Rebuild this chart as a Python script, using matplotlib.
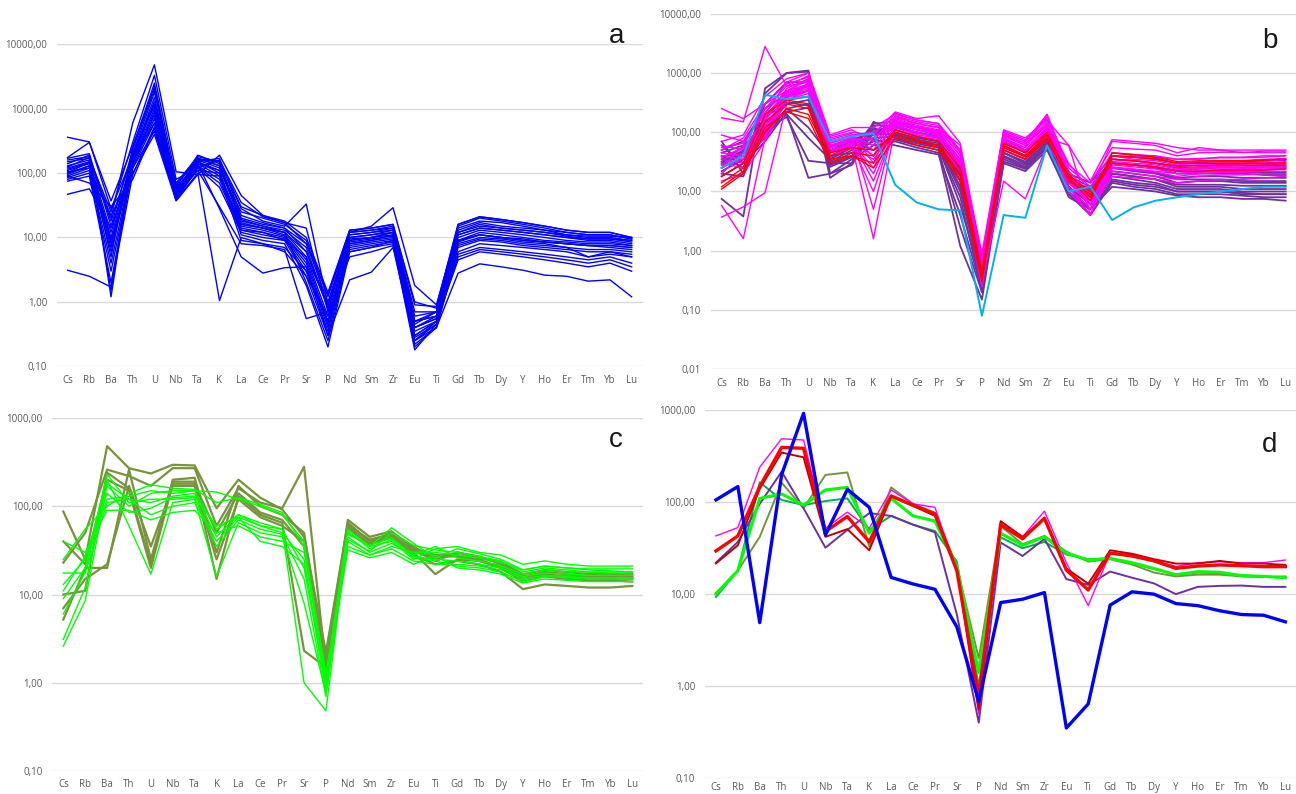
import matplotlib
matplotlib.use("Agg")
import matplotlib.pyplot as plt
from matplotlib.ticker import FixedLocator, FuncFormatter, NullLocator

plt.rcParams['font.family'] = ['Open Sans', 'DejaVu Sans']

elements = ["Cs", "Rb", "Ba", "Th", "U", "Nb", "Ta", "K", "La", "Ce", "Pr", "Sr", "P",
            "Nd", "Sm", "Zr", "Eu", "Ti", "Gd", "Tb", "Dy", "Y", "Ho", "Er", "Tm", "Yb", "Lu"]

# ---- panel a: blue suite ----
series_a = [
    [3.1, 2.5, 1.7, 95, 520, 42, 160, 150, 16, 14, 12, 6, 0.9, 10, 11, 13, 0.45, 0.7, 11, 14, 13, 12, 11, 10, 9.5, 9.5, 9],
    [360, 305, 28, 180, 1200, 55, 150, 170, 22, 17, 14, 8, 1.0, 11, 12, 14, 0.5, 0.6, 12, 15, 14, 13, 12, 11, 10.5, 10.5, 10],
    [47, 57, 14, 140, 800, 50, 170, 130, 19, 15, 13, 7, 0.8, 9.5, 10, 12, 0.4, 0.55, 9, 11, 10, 9, 8.5, 8, 7.5, 7.5, 7],
    [175, 300, 37, 260, 2200, 60, 140, 110, 25, 20, 16, 9, 1.2, 12, 13, 15, 0.7, 0.7, 15, 20, 18, 16, 14, 12, 11, 11, 9.5],
    [160, 180, 20, 600, 4800, 105, 95, 190, 45, 22, 18, 10, 1.4, 13, 14, 16, 1.0, 0.8, 16, 21, 19, 17, 15, 13, 12, 12, 10],
    [150, 170, 25, 300, 3300, 80, 120, 160, 35, 21, 17, 14, 0.7, 12, 15, 29, 1.8, 0.9, 14, 18, 17, 15, 13, 12, 11, 11, 9.5],
    [130, 160, 18, 200, 1800, 70, 180, 150, 28, 18, 15, 33, 0.9, 12, 13, 14, 0.6, 0.7, 13, 17, 15, 14, 13, 11, 10, 10, 9],
    [120, 150, 12, 180, 1500, 60, 190, 140, 20, 16, 14, 6, 0.8, 11, 12, 13, 0.5, 0.6, 12, 16, 14, 13, 12, 10.5, 9.5, 9.5, 8.5],
    [110, 140, 10, 170, 1200, 55, 160, 120, 18, 15, 12, 5, 0.6, 10, 11, 12, 0.4, 0.55, 11, 14, 13, 12, 11, 10, 9, 9, 8],
    [100, 130, 8, 160, 1000, 50, 150, 100, 16, 14, 11, 4.5, 0.5, 9, 10, 11, 0.35, 0.5, 10, 13, 12, 11, 10, 9, 8.5, 8.5, 7.5],
    [90, 120, 6, 150, 900, 45, 140, 90, 15, 13, 10.5, 4, 0.45, 8.5, 9.5, 10.5, 0.3, 0.5, 9, 12, 11, 10, 9, 8.5, 8, 8, 7.5],
    [85, 110, 4, 145, 800, 42, 130, 80, 14, 12, 10, 3.5, 0.4, 8, 9, 10, 0.28, 0.45, 8.5, 11, 10, 9, 8.5, 8, 7.5, 7.5, 7],
    [80, 100, 3, 130, 700, 40, 125, 70, 13, 11, 9.5, 3, 0.35, 7.5, 8.5, 9.5, 0.25, 0.45, 8, 10, 9.5, 8.5, 8, 7, 6.5, 6.5, 6],
    [75, 90, 2, 120, 600, 38, 120, 60, 12, 10, 9, 2.5, 0.3, 7, 8, 9, 0.22, 0.4, 7, 9, 8.5, 7.5, 7, 6.5, 6, 6, 5.5],
    [140, 190, 1.2, 190, 1300, 65, 170, 130, 17, 14, 12, 2, 0.25, 6.5, 7.5, 8.5, 0.2, 0.4, 6, 8, 7.5, 7, 6.5, 6, 5, 5.5, 5],
    [125, 175, 1.5, 210, 1100, 48, 150, 110, 11, 9, 8, 1.8, 0.2, 6, 7, 8, 0.18, 0.45, 5.5, 7, 6.5, 6, 5.5, 5, 4.5, 5, 4],
    [100, 150, 5, 250, 2500, 62, 110, 30, 8, 7.5, 6.5, 0.55, 0.7, 5, 6, 7.5, 0.3, 0.5, 5, 6.5, 6, 5.5, 5, 4.5, 4, 4.5, 3.5],
    [95, 130, 7, 160, 600, 38, 100, 1.05, 10, 8, 7, 3, 0.5, 8, 9, 11, 0.4, 0.6, 7.5, 9.5, 9, 8, 7.5, 7, 5, 6, 5],
    [115, 145, 9, 120, 450, 40, 140, 28, 5, 2.8, 3.4, 3.5, 0.3, 2.2, 2.9, 7, 0.25, 0.4, 2.8, 3.9, 3.5, 3.1, 2.6, 2.5, 2.1, 2.2, 1.2],
    [170, 200, 15, 230, 2000, 65, 165, 155, 30, 22, 17, 8, 1.3, 13, 14, 16, 0.9, 0.85, 16, 21, 19, 17, 15, 13, 12, 12, 10],
    [105, 120, 22, 100, 400, 37, 95, 90, 9, 8, 6, 2.5, 0.6, 6, 7, 9, 0.25, 0.5, 4.5, 6, 5.5, 5, 4.5, 4, 3.5, 4, 3],
    [90, 70, 30, 80, 500, 45, 110, 100, 13, 12, 9, 5, 0.9, 9, 10, 12, 0.5, 0.7, 9, 11, 10, 9.5, 8.5, 8, 7.5, 7, 6.5],
]

# ---- panel b: magenta, purple, red and cyan suites ----
series_b_magenta = [
    [250, 170, 300, 500, 800, 70, 80, 60, 180, 140, 120, 50, 0.6, 90, 60, 130, 30, 10, 70, 65, 60, 45, 55, 50, 45, 48, 48],
    [175, 150, 2800, 600, 900, 80, 100, 90, 220, 170, 190, 65, 0.7, 110, 80, 160, 60, 15, 75, 70, 65, 55, 50, 50, 50, 50, 50],
    [3.7, 5.5, 9.5, 300, 700, 60, 70, 40, 150, 110, 100, 30, 0.4, 80, 45, 120, 20, 5, 40, 35, 33, 28, 30, 30, 30, 32, 35],
    [5.8, 1.6, 80, 400, 600, 50, 60, 1.6, 120, 90, 80, 25, 0.3, 60, 40, 90, 12, 4, 30, 28, 26, 22, 24, 24, 24, 25, 25],
    [90, 70, 200, 700, 1000, 90, 120, 120, 200, 160, 140, 45, 0.8, 100, 70, 200, 25, 12, 45, 40, 38, 35, 35, 38, 38, 40, 40],
    [60, 50, 150, 550, 800, 70, 90, 100, 180, 140, 120, 40, 0.5, 90, 65, 150, 18, 8, 35, 33, 30, 26, 28, 30, 30, 30, 32],
    [45, 40, 120, 450, 650, 55, 75, 80, 160, 120, 100, 35, 0.45, 75, 55, 120, 15, 7, 30, 28, 26, 22, 25, 26, 26, 27, 28],
    [35, 30, 100, 400, 550, 50, 65, 20, 140, 110, 90, 30, 0.35, 65, 45, 100, 14, 6, 28, 26, 24, 20, 22, 23, 23, 24, 25],
    [30, 25, 90, 350, 500, 45, 60, 10, 130, 100, 80, 25, 0.3, 55, 40, 90, 12, 5, 25, 23, 21, 18, 20, 21, 21, 22, 22],
    [25, 60, 250, 600, 700, 65, 85, 5, 150, 120, 100, 35, 0.25, 70, 50, 110, 15, 6, 32, 30, 28, 24, 26, 27, 27, 28, 30],
    [50, 80, 300, 650, 850, 75, 95, 30, 190, 150, 130, 45, 0.5, 95, 70, 170, 22, 9, 40, 38, 35, 30, 32, 33, 33, 35, 36],
    [40, 35, 180, 500, 650, 60, 80, 50, 170, 130, 110, 40, 0.4, 85, 60, 140, 20, 7, 45, 42, 40, 35, 36, 37, 37, 38, 40],
    [20, 45, 130, 420, 600, 55, 70, 15, 120, 95, 85, 20, 0.3, 15, 7.5, 60, 20, 6, 18, 17, 16, 14, 15, 16, 16, 17, 18],
    [15, 20, 70, 350, 450, 40, 55, 35, 110, 85, 75, 20, 0.25, 50, 35, 80, 60, 4, 22, 20, 18, 16, 18, 19, 19, 20, 20],
    [70, 90, 400, 800, 1000, 85, 110, 70, 210, 160, 140, 50, 0.9, 105, 75, 180, 28, 14, 55, 52, 50, 40, 45, 46, 46, 45, 45],
    [55, 65, 220, 500, 750, 65, 85, 60, 180, 140, 120, 60, 0.6, 90, 65, 130, 16, 10, 35, 33, 30, 27, 28, 29, 29, 30, 31],
    [28, 35, 110, 380, 520, 48, 65, 25, 140, 110, 95, 28, 0.35, 70, 50, 100, 10, 4, 26, 24, 22, 20, 21, 22, 22, 23, 24],
    [38, 55, 160, 480, 620, 58, 78, 40, 160, 125, 105, 32, 0.4, 80, 55, 200, 18, 8, 30, 28, 26, 23, 24, 25, 25, 26, 27],
]
series_b_purple = [
    [7.5, 3.8, 550, 1000, 1100, 30, 30, 150, 100, 80, 70, 15, 0.3, 50, 35, 80, 15, 6, 20, 18, 16, 12, 12, 12, 11, 11, 11],
    [70, 20, 450, 1000, 1050, 20, 28, 100, 90, 70, 60, 12, 0.25, 45, 30, 70, 12, 5, 18, 16, 14, 11, 11, 11, 10, 10, 10],
    [60, 30, 300, 700, 700, 17, 30, 120, 80, 65, 55, 8, 0.2, 40, 28, 60, 10, 4, 16, 14, 13, 10, 10, 10, 9.5, 9, 9],
    [20, 18, 150, 200, 17, 20, 35, 60, 70, 55, 45, 1.2, 0.15, 30, 22, 50, 9, 4, 14, 12, 11, 9, 9, 9, 8.5, 8, 8],
    [25, 40, 120, 180, 33, 30, 45, 70, 75, 60, 50, 2.5, 0.2, 35, 25, 55, 10, 5, 15, 13, 12, 10, 10, 10, 9, 9, 9],
    [30, 50, 90, 200, 80, 35, 55, 80, 85, 65, 55, 6, 0.3, 38, 26, 60, 12, 6, 20, 18, 16, 13, 13, 13, 12.5, 12.5, 12.5],
    [35, 55, 100, 250, 120, 40, 60, 90, 95, 70, 60, 10, 0.35, 45, 30, 65, 14, 8, 25, 22, 20, 16, 16, 16, 15, 15, 15],
    [45, 60, 130, 350, 400, 45, 65, 110, 110, 85, 70, 15, 0.4, 55, 40, 80, 15, 10, 30, 28, 25, 20, 20, 20, 20, 19, 19],
    [18, 30, 70, 220, 260, 28, 40, 130, 130, 100, 85, 20, 0.45, 70, 45, 100, 18, 12, 35, 33, 30, 25, 25, 26, 25, 26, 26],
    [22, 35, 80, 250, 300, 32, 50, 140, 150, 120, 100, 25, 0.5, 80, 50, 110, 20, 14, 40, 38, 36, 30, 31, 32, 32, 33, 34],
    [28, 45, 110, 300, 350, 38, 55, 95, 120, 100, 80, 18, 0.35, 60, 40, 90, 14, 9, 25, 23, 21, 17, 18, 18, 17, 17, 17],
    [40, 25, 200, 400, 500, 50, 70, 50, 90, 75, 65, 12, 0.28, 45, 32, 70, 11, 7, 22, 20, 18, 14, 15, 15, 14, 14, 14],
    [32, 48, 180, 320, 280, 26, 38, 75, 60, 50, 42, 4, 0.22, 32, 24, 55, 8, 5, 12, 11, 10, 8.5, 8, 8, 7.5, 7.5, 7],
    [50, 70, 250, 450, 600, 55, 75, 100, 140, 110, 90, 22, 0.45, 75, 48, 95, 16, 11, 30, 28, 26, 22, 22, 22, 21, 21, 21],
]
series_b_red = [
    [11, 20, 100, 250, 200, 35, 40, 30, 100, 75, 60, 20, 0.4, 60, 40, 90, 20, 8, 40, 38, 35, 30, 30, 30, 30, 30, 30],
    [14, 25, 150, 300, 250, 40, 45, 40, 110, 85, 70, 25, 0.45, 65, 45, 100, 18, 10, 35, 33, 30, 27, 27, 28, 28, 28, 28],
    [18, 30, 200, 350, 300, 45, 55, 50, 90, 70, 55, 18, 0.35, 55, 38, 80, 15, 9, 30, 28, 26, 22, 22, 23, 23, 23, 24],
    [12, 22, 120, 220, 170, 30, 40, 25, 80, 60, 50, 15, 0.3, 50, 35, 75, 17, 7, 45, 42, 38, 32, 33, 33, 33, 34, 35],
]
series_b_cyan = [25, 40, 430, 360, 400, 70, 85, 95, 13, 6.5, 5, 4.8, 0.08, 4, 3.6, 60, 10, 12, 3.3, 5.4, 7, 8, 9, 10, 11, 12, 12]

# ---- panel c: olive and green suites ----
series_c_olive = [
    [87, 25, 480, 270, 235, 295, 290, 95, 200, 125, 92, 45, 2.2, 65, 40, 50, 35, 25, 30, 27, 22, 16, 18, 17, 16, 16, 16],
    [23, 50, 260, 220, 170, 270, 270, 60, 160, 110, 95, 280, 1.5, 70, 45, 52, 33, 28, 28, 25, 20, 14, 16, 15, 14.5, 14.5, 14],
    [10, 11, 240, 160, 22, 200, 210, 30, 170, 100, 80, 50, 1.6, 60, 42, 48, 30, 17, 25, 24, 21, 16, 17, 16, 16, 15.5, 15],
    [5.2, 20, 20, 260, 25, 190, 190, 15, 130, 80, 65, 2.3, 1.5, 55, 38, 45, 28, 22, 24, 22, 18, 11.5, 13, 12.5, 12, 12, 12.5],
    [7, 15, 22, 170, 35, 170, 170, 25, 120, 75, 60, 40, 2.0, 62, 40, 47, 32, 24, 30, 26, 23, 17, 19, 18, 17, 17, 17],
    [40, 22, 200, 150, 20, 180, 180, 50, 140, 85, 70, 35, 1.2, 58, 37, 44, 30, 27, 27, 24, 20, 15, 16.5, 16, 15.5, 15, 15.5],
]
series_c_green = [
    [2.6, 8.5, 170, 100, 140, 150, 150, 55, 80, 60, 55, 1.0, 0.48, 50, 35, 40, 25, 33, 35, 30, 28, 22, 24, 22, 21, 21, 21],
    [3.1, 12, 200, 60, 17, 110, 120, 16, 65, 50, 45, 8, 0.75, 45, 30, 38, 28, 35, 26, 24, 21, 17, 19, 18, 18, 18, 18],
    [17.5, 17.5, 110, 120, 80, 100, 110, 40, 75, 60, 50, 25, 0.8, 40, 28, 35, 30, 30, 28, 26, 23, 19, 21, 20, 19.5, 19.5, 19.5],
    [40, 30, 90, 90, 70, 85, 90, 50, 60, 45, 40, 30, 1.3, 35, 28, 33, 24, 22, 22, 21, 19, 15, 16.5, 16, 15.5, 15.5, 15.5],
    [13, 25, 120, 130, 150, 140, 150, 145, 120, 100, 80, 40, 1.0, 32, 26, 30, 22, 28, 20, 19, 17, 13.5, 15, 14.5, 14, 14, 14],
    [25, 55, 100, 140, 175, 160, 155, 110, 125, 105, 85, 35, 1.2, 55, 35, 57, 38, 26, 33, 29, 25, 19, 21, 20, 19, 18.5, 18],
    [6, 18, 180, 120, 110, 130, 140, 45, 80, 65, 55, 20, 0.9, 48, 36, 44, 27, 25, 24, 22, 20, 16, 17.5, 17, 16.5, 16.5, 16.5],
    [9, 20, 230, 110, 120, 120, 125, 35, 70, 55, 48, 15, 0.7, 52, 33, 42, 26, 24, 21, 20, 18, 14, 16, 15.5, 15, 15, 15],
    [11, 27, 140, 85, 95, 125, 130, 60, 75, 40, 35, 22, 1.1, 42, 31, 50, 36, 32, 30, 27, 24, 18, 20, 19, 18, 17.5, 17.5],
]

# ---- panel d: group averages ----
series_d = {
    "olive":  [10.3, 18, 42, 163, 86, 198, 211, 33, 145, 96, 77, 20, 2.0, 55, 35, 43, 29, 22.6, 24, 21, 17.2, 15.6, 16.3, 16.3, 15.6, 15.3, 15.6],
    "teal":   [9.3, 18, 165, 106, 93, 103, 110, 50, 71, 57, 48.6, 22.6, 1.0, 41.5, 31.6, 37, 27, 24, 24.5, 21.6, 18.8, 16.3, 17.2, 16.9, 16.0, 15.6, 15.1],
    "purple": [22, 37, 96, 215, 86, 32, 50, 76, 71, 57, 47, 6, 0.40, 36.5, 26, 40, 14.6, 12.6, 17.6, 15.1, 13.1, 10, 12.0, 12.3, 12.4, 12.0, 12.0],
    "magenta": [43, 53, 240, 490, 475, 52, 78, 52, 136, 96, 88, 18, 0.5, 62.5, 42, 80, 22, 7.5, 28, 27, 23.5, 20, 22, 22.5, 22, 22, 23.5],
    "darkred": [21.6, 34, 140, 347, 308, 42, 51, 30, 115, 91, 71, 20, 0.55, 62, 42, 66, 19, 13, 30, 27.5, 24, 21.5, 21.5, 23, 21.5, 21.5, 20.8],
    "green":  [10, 18, 110, 123, 93, 136, 145, 46, 110, 71, 62.5, 20, 1.4, 46, 34, 42, 28, 23.5, 24.5, 22, 19, 16.3, 17.6, 17.3, 15.9, 15.6, 15.1],
    "red":    [29.5, 43, 148, 395, 386, 48, 70, 37, 117, 93, 74.5, 18, 0.77, 57, 40, 67, 18.3, 11.1, 28, 26, 23, 19.1, 20.2, 20.8, 20.4, 19.9, 19.9],
    "blue":   [106, 148, 4.9, 200, 927, 44, 138, 88, 15.2, 12.9, 11.3, 4.4, 0.68, 8.1, 8.8, 10.4, 0.35, 0.64, 7.6, 10.6, 10.0, 7.9, 7.5, 6.6, 6.0, 5.9, 5.0],
}
colors_d = {"olive": "#77933C", "teal": "#00B050", "purple": "#7030A0", "magenta": "#FF00FF",
            "darkred": "#C00000", "green": "#00FF00", "red": "#FF0000", "blue": "#0000FF"}
widths_d = {"olive": 1.4, "teal": 1.4, "purple": 1.4, "magenta": 1.0,
            "darkred": 1.4, "green": 2.2, "red": 2.4, "blue": 2.4}

W, H = 1296, 794
fig = plt.figure(figsize=(W / 100, H / 100), dpi=100)
GRID = "#d9d9d9"
TXT = "#595959"


def make_axes(x0, x1, ytop, ybot, ymin, ymax, xpad=6):
    ax = fig.add_axes([x0 / W, 1 - ybot / H, (x1 - x0) / W, (ybot - ytop) / H])
    ax.set_yscale("log")
    ax.set_ylim(ymin, ymax)
    ax.set_xlim(-0.5, len(elements) - 0.5)
    ticks = []
    v = ymin
    while v <= ymax * 1.0001:
        ticks.append(v)
        v *= 10
    ax.yaxis.set_major_locator(FixedLocator(ticks))
    ax.yaxis.set_minor_locator(NullLocator())
    ax.yaxis.set_major_formatter(FuncFormatter(lambda val, pos: f"{val:.2f}".replace(".", ",")))
    ax.set_xticks(range(len(elements)))
    ax.set_xticklabels(elements)
    ax.tick_params(axis="both", length=0, labelsize=7, labelcolor=TXT)
    ax.tick_params(axis="y", pad=7)
    ax.tick_params(axis="x", pad=xpad)
    ax.grid(axis="y", color=GRID, linewidth=1.0)
    ax.set_axisbelow(True)
    for s in ax.spines.values():
        s.set_visible(False)
    ax.patch.set_alpha(0)
    return ax


x = list(range(len(elements)))

ax_a = make_axes(56.8, 642.5, 44.3, 366.3, 0.1, 10000)
for vals in series_a:
    ax_a.plot(x, vals, color="#0000FF", lw=1.0)

ax_b = make_axes(710.8, 1296.5, 13.7, 369.3, 0.01, 10000)
for vals in series_b_purple:
    ax_b.plot(x, vals, color="#7030A0", lw=1.3)
for vals in series_b_magenta:
    ax_b.plot(x, vals, color="#FF00FF", lw=1.0)
for vals in series_b_red:
    ax_b.plot(x, vals, color="#FF0000", lw=1.0)
ax_b.plot(x, series_b_cyan, color="#00B0F0", lw=1.4)

ax_c = make_axes(52.4, 643.3, 418, 771, 0.1, 1000)
for vals in series_c_olive:
    ax_c.plot(x, vals, color="#77933C", lw=1.6)
for vals in series_c_green:
    ax_c.plot(x, vals, color="#00FF00", lw=1.0)

ax_d = make_axes(705, 1296.3, 410.3, 778, 0.1, 1000, xpad=3)
for name, vals in series_d.items():
    ax_d.plot(x, vals, color=colors_d[name], lw=widths_d[name])

for letter, px, py in [("a", 617, 42.7), ("b", 1270, 48.3), ("c", 616, 447.3), ("d", 1270, 451.7)]:
    fig.text(px / W, 1 - py / H, letter, ha="center", va="baseline", fontsize=20,
             color="#1a1a1a", family=["Liberation Sans", "DejaVu Sans"])

fig.savefig("out.png", dpi=100)
